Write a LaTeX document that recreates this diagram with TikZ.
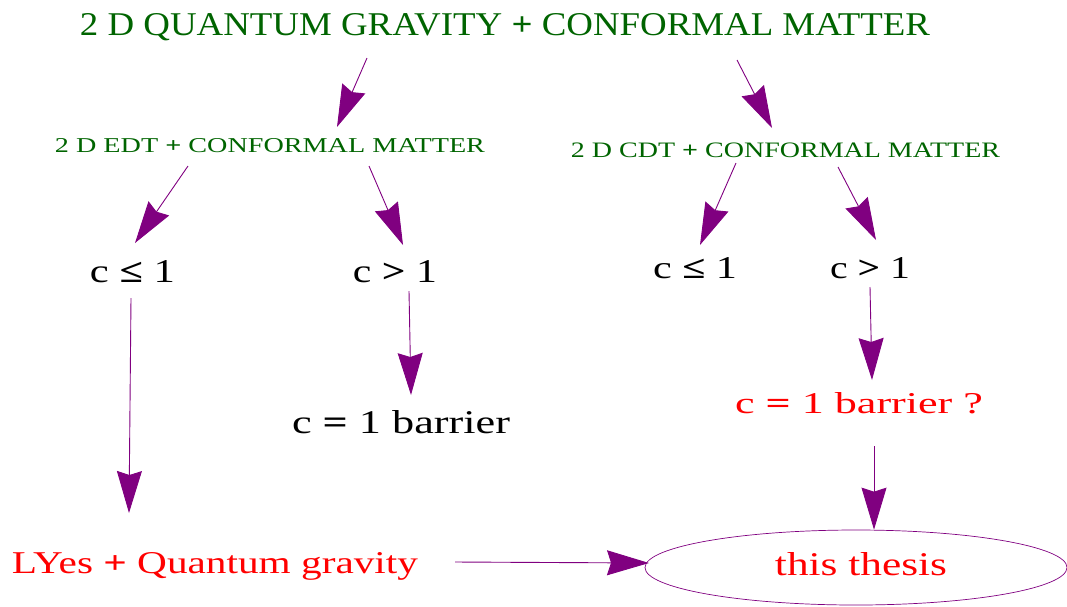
\documentclass[tikz,border=0pt]{standalone}
\usepackage{fontspec}
\setmainfont{Liberation Serif}
\usepackage{graphicx}
\usetikzlibrary{arrows.meta,shapes.geometric}
\definecolor{dgreen}{RGB}{0,100,0}
\definecolor{arrpurple}{RGB}{128,0,128}
\definecolor{tred}{RGB}{255,0,0}
\newcommand{\fitt}[3]{\resizebox{#1pt}{#2pt}{#3}}
\newcommand{\bs}[1]{\textbf{#1}}
\begin{document}
\begin{tikzpicture}[x=1pt,y=-1pt,
  lbl/.style={inner sep=0pt, anchor=base},
  arr/.style={draw=arrpurple, line width=0.9pt, -{Stealth[length=42pt,width=25pt,inset=4pt]}}]
\useasboundingbox (0,0) rectangle (1067,606);
% texts
\node[lbl, text=dgreen] (title) at (505,35) {\fitt{850}{22}{2 D QUANTUM GRAVITY \bs{+} CONFORMAL MATTER}};
\node[lbl, text=dgreen] (edt) at (270,152) {\fitt{430}{14}{2 D EDT \bs{+} CONFORMAL MATTER}};
\node[lbl, text=dgreen] (cdt) at (785.5,157) {\fitt{429}{14.6}{2 D CDT \bs{+} CONFORMAL MATTER}};
\node[lbl] (cleL) at (132.5,282) {\fitt{85}{22}{c \bs{≤} 1}};
\node[lbl] (cgtL) at (395,282) {\fitt{84}{22}{c \bs{>} 1}};
\node[lbl] (cleR) at (695,278) {\fitt{84}{21}{c \bs{≤} 1}};
\node[lbl] (cgtR) at (870,278) {\fitt{80}{21}{c \bs{>} 1}};
\node[lbl] (barL) at (401,433) {\fitt{218}{23}{c \bs{=} 1 barrier}};
\node[lbl, text=tred] (barR) at (859,413) {\fitt{248}{21}{c \bs{=} 1 barrier ?}};
\node[lbl, text=tred] (lyes) at (215,573) {\fitt{406}{21}{LYes \bs{+} Quantum gravity}};
\node[draw=arrpurple, line width=0.7pt, ellipse, minimum width=422pt, minimum height=75pt, inner sep=0pt] (thesis) at (856,567.5) {};
\node[lbl, text=tred] (thesistxt) at (861,575) {\fitt{172}{23}{this thesis}};
% connector end points
\coordinate (a1s) at (367,58);   \coordinate (a1e) at (337,127);
\coordinate (a2s) at (737,60);   \coordinate (a2e) at (772,128);
\coordinate (a3s) at (188,166);  \coordinate (a3e) at (135,243);
\coordinate (a4s) at (369,166);  \coordinate (a4e) at (403,245);
\coordinate (a5s) at (736,163);  \coordinate (a5e) at (700,245);
\coordinate (a6s) at (838,167);  \coordinate (a6e) at (876,240);
\coordinate (a7s) at (131,298);  \coordinate (a7e) at (129,513);
\coordinate (a8s) at (409,291);  \coordinate (a8e) at (411,395);
\coordinate (a9s) at (870,287);  \coordinate (a9e) at (872,380);
\coordinate (a10s) at (874,446);
\coordinate (a11s) at (455,562); \coordinate (a11e) at (649,563);
% connectors
\draw[arr] (a1s) -- (a1e);
\draw[arr] (a2s) -- (a2e);
\draw[arr] (a3s) -- (a3e);
\draw[arr] (a4s) -- (a4e);
\draw[arr] (a5s) -- (a5e);
\draw[arr] (a6s) -- (a6e);
\draw[arr] (a7s) -- (a7e);
\draw[arr] (a8s) -- (a8e);
\draw[arr] (a9s) -- (a9e);
\draw[arr] (a10s) -- (a10s |- thesis.north);
\draw[arr] (a11s) -- (a11e);
\end{tikzpicture}
\end{document}
